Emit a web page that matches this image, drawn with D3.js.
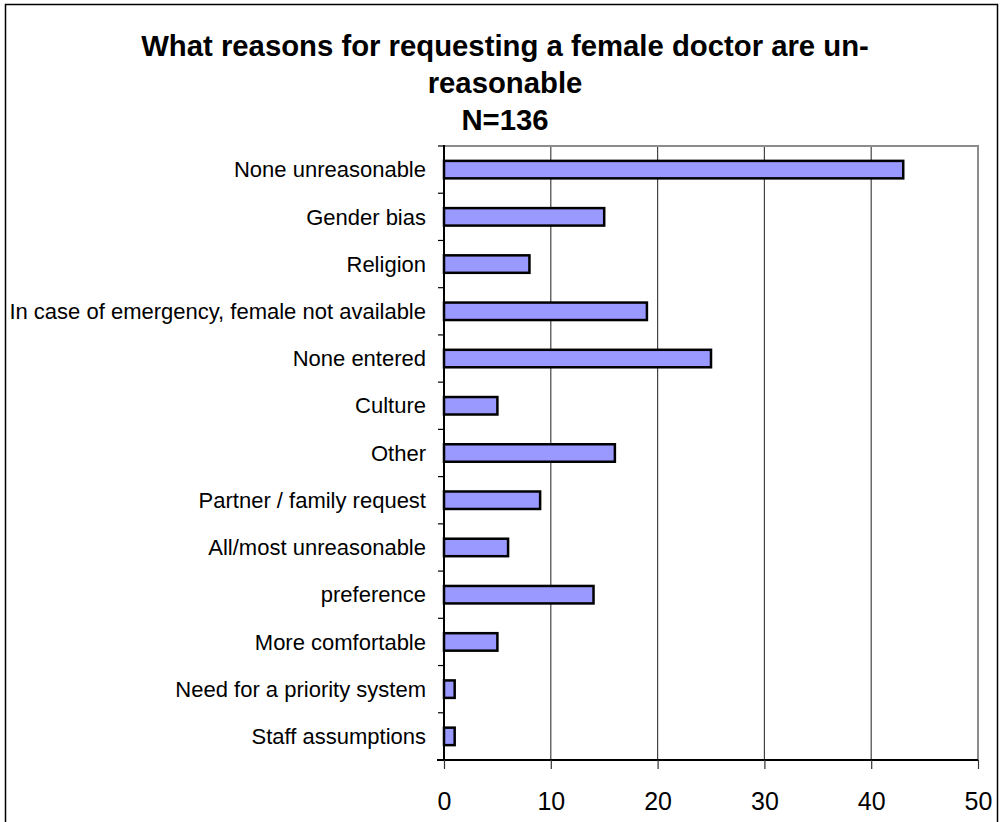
<!DOCTYPE html>
<html>
<head>
<meta charset="utf-8">
<script src="https://cdn.jsdelivr.net/npm/d3@7"></script>
<style>
  html, body { margin: 0; padding: 0; background: #fff; }
  svg { display: block; font-family: Arial, "Liberation Sans", sans-serif; }
</style>
</head>
<body>
<svg id="chart" width="1002" height="822"></svg>
<script>
// Survey answers: which reasons for requesting a female doctor are unreasonable
const categories = [
  "None unreasonable",
  "Gender bias",
  "Religion",
  "In case of emergency, female not available",
  "None entered",
  "Culture",
  "Other",
  "Partner / family request",
  "All/most unreasonable",
  "preference",
  "More comfortable",
  "Need for a priority system",
  "Staff assumptions"
];
const counts = [43, 15, 8, 19, 25, 5, 16, 9, 6, 14, 5, 1, 1];
const xTicks = [0, 10, 20, 30, 40, 50];
const titleLines = [
  "What reasons for requesting a female doctor are un-",
  "reasonable",
  "N=136"
];

const svg = d3.select("#chart");

// Frame around the whole chart
svg.append("rect")
  .attr("x", 5.5).attr("y", 4.5)
  .attr("width", 992).attr("height", 840)
  .attr("fill", "none").attr("stroke", "#000").attr("stroke-width", 1.5);

// Title
svg.append("g").selectAll("text")
  .data(titleLines)
  .join("text")
  .attr("x", 505)
  .attr("y", (d, i) => 56 + i * 37)
  .attr("text-anchor", "middle")
  .attr("font-weight", "bold")
  .attr("font-size", 29.3)
  .attr("fill", "#000")
  .text(d => d);

// Plot area
const plotL = 444, plotR = 978, plotT = 146, plotB = 760;

const x = d3.scaleLinear().domain([0, 50]).range([plotL, plotR]);
const y = d3.scaleBand().domain(categories).range([plotT, plotB]).padding(0);

// Vertical gridlines
svg.append("g").selectAll("line")
  .data(xTicks.filter(t => t > 0 && t < 50))
  .join("line")
  .attr("x1", d => x(d)).attr("x2", d => x(d))
  .attr("y1", plotT).attr("y2", plotB)
  .attr("stroke", "#444").attr("stroke-width", 1.2);

// Top and right border of the plot area
svg.append("path")
  .attr("d", `M${plotL},${plotT}H${plotR}V${plotB}`)
  .attr("fill", "none").attr("stroke", "#8c8c8c").attr("stroke-width", 2);

// Bars
const barH = y.bandwidth() * 0.37;
svg.append("g").selectAll("rect")
  .data(categories)
  .join("rect")
  .attr("x", x(0))
  .attr("y", d => y(d) + (y.bandwidth() - barH) / 2)
  .attr("width", (d, i) => x(counts[i]) - x(0))
  .attr("height", barH)
  .attr("fill", "#9999ff")
  .attr("stroke", "#000")
  .attr("stroke-width", 2.5);

// Y axis (category labels, ticks at band boundaries)
const yAxis = svg.append("g");
yAxis.append("line")
  .attr("x1", plotL).attr("x2", plotL)
  .attr("y1", plotT - 1).attr("y2", plotB + 1)
  .attr("stroke", "#000").attr("stroke-width", 2);
yAxis.selectAll("line.tick")
  .data(d3.range(categories.length + 1))
  .join("line")
  .attr("class", "tick")
  .attr("x1", plotL - 6).attr("x2", plotL)
  .attr("y1", i => plotT + i * y.step()).attr("y2", i => plotT + i * y.step())
  .attr("stroke", "#000").attr("stroke-width", 1.2);
yAxis.selectAll("text")
  .data(categories)
  .join("text")
  .attr("x", plotL - 18)
  .attr("y", d => y(d) + y.bandwidth() / 2)
  .attr("dy", "0.35em")
  .attr("text-anchor", "end")
  .attr("font-size", 22)
  .attr("fill", "#000")
  .text(d => d);

// X axis
const xAxis = d3.axisBottom(x).tickValues(xTicks).tickSize(9).tickPadding(23)
  .tickFormat(d3.format("d"));
const gx = svg.append("g").attr("transform", `translate(0,${plotB})`).call(xAxis);
gx.select(".domain").attr("stroke", "#000").attr("stroke-width", 2.2)
  .attr("d", `M${plotL - 7},0H${plotR}`);
gx.selectAll(".tick line").attr("stroke", "#333").attr("stroke-width", 1.2);
gx.selectAll(".tick text")
  .attr("font-size", 25)
  .attr("font-family", "Arial, 'Liberation Sans', sans-serif")
  .attr("fill", "#000");
</script>
</body>
</html>
